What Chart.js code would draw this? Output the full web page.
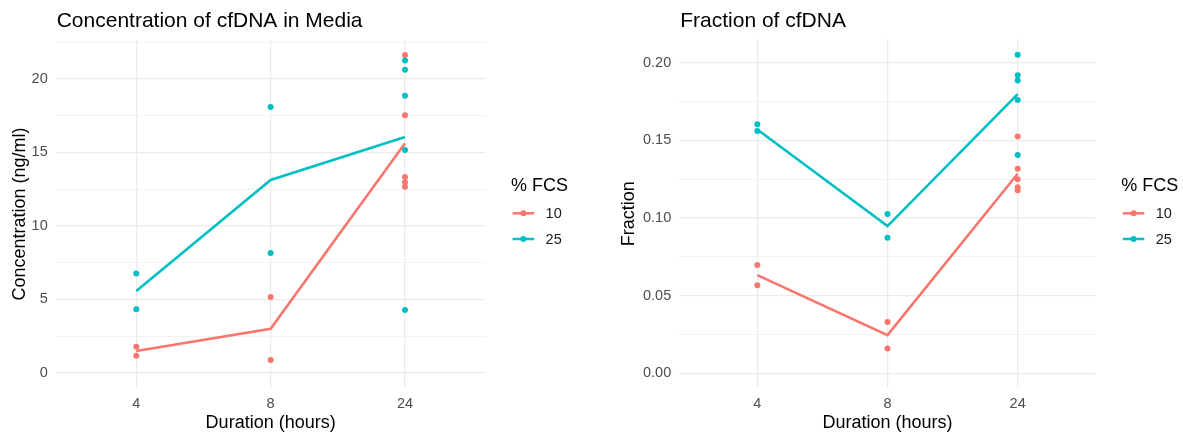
<!DOCTYPE html>
<html>
<head>
<meta charset="utf-8">
<script src="https://cdn.jsdelivr.net/npm/chart.js@4.4.1/dist/chart.umd.min.js"></script>
<style>
  body { margin: 0; background: #fff; }
  .wrap { position: absolute; top: 0; height: 437px; }
  #left { left: 0; width: 600px; }
  #right { left: 600px; width: 583px; }
</style>
</head>
<body>
<div class="wrap" id="left"><canvas id="concChart"></canvas></div>
<div class="wrap" id="right"><canvas id="fracChart"></canvas></div>
<script>
// categories
const durationLabels = ["4", "8", "24"];
const fcsGroups = ["10", "25"];
const groupColors = ["#F8766D", "#00BFC4"];

// concentration (ng/ml), one inner list per duration
const conc10 = [[1.79, 1.18], [5.17, 0.88], [21.63, 17.53, 13.33, 12.98, 12.66]];
const conc25 = [[6.76, 4.33], [18.1, 8.16], [21.25, 20.63, 18.86, 15.17, 4.29]];
const concMean10 = [1.5, 3.01, 15.62];
const concMean25 = [5.57, 13.13, 16.05];

// fraction, one inner list per duration
const frac10 = [[0.0697, 0.0567], [0.033, 0.0161], [0.1524, 0.1317, 0.1249, 0.1198, 0.1179]];
const frac25 = [[0.1603, 0.156], [0.1026, 0.0873], [0.205, 0.1918, 0.1885, 0.176, 0.1406]];
const fracMean10 = [0.0632, 0.0246, 0.1285];
const fracMean25 = [0.157, 0.0948, 0.1797];

// y ticks (major labelled, minor lines in between)
const concTicks = [0, 5, 10, 15, 20];
const fracTicks = [0, 0.05, 0.1, 0.15, 0.2];

const FONT = "'Liberation Sans', Arial, sans-serif";

function toPoints(groups) {
  const pts = [];
  groups.forEach((vals, i) => vals.forEach((v) => pts.push({ x: i + 1, y: v })));
  return pts;
}

function toLine(means) {
  return means.map((v, i) => ({ x: i + 1, y: v }));
}

// title and ggplot-like legend drawn on the canvas
const panelDecor = {
  id: "panelDecor",
  afterDraw(chart, args, opts) {
    const ctx = chart.ctx;
    const area = chart.chartArea;
    ctx.save();
    ctx.fillStyle = "#000";
    ctx.textBaseline = "middle";
    ctx.textAlign = "left";
    ctx.font = "21px " + FONT;
    ctx.fillText(opts.title, area.left + 1, 21.5);

    const lx = area.right;
    ctx.font = "18px " + FONT;
    ctx.fillText("% FCS", lx + 25.5, 186);
    ctx.font = "14.5px " + FONT;
    const rows = [213.3, 239];
    fcsGroups.forEach((g, i) => {
      const y = rows[i];
      ctx.strokeStyle = groupColors[i];
      ctx.fillStyle = groupColors[i];
      ctx.lineWidth = 2.5;
      ctx.beginPath();
      ctx.moveTo(lx + 27, y);
      ctx.lineTo(lx + 48.5, y);
      ctx.stroke();
      ctx.beginPath();
      ctx.arc(lx + 37.8, y, 3, 0, Math.PI * 2);
      ctx.fill();
      ctx.fillStyle = "#1a1a1a";
      ctx.fillText(g, lx + 60, y + 0.5);
    });
    ctx.restore();
  },
};

function makeChart(canvasId, cfg) {
  const ctx = document.getElementById(canvasId).getContext("2d");
  const majorSet = cfg.ticks.map((t) => t.toFixed(4));
  const step = cfg.ticks[1] - cfg.ticks[0];
  return new Chart(ctx, {
    data: {
      datasets: [
        {
          type: "scatter",
          label: fcsGroups[1],
          data: toPoints(cfg.pts25),
          backgroundColor: groupColors[1],
          pointRadius: 3,
          pointBorderWidth: 0,
          order: 1,
        },
        {
          type: "line",
          label: fcsGroups[1] + " mean",
          data: toLine(cfg.mean25),
          borderColor: groupColors[1],
          borderWidth: 2.6,
          pointRadius: 0,
          tension: 0,
          order: 2,
        },
        {
          type: "scatter",
          label: fcsGroups[0],
          data: toPoints(cfg.pts10),
          backgroundColor: groupColors[0],
          pointRadius: 3,
          pointBorderWidth: 0,
          order: 3,
        },
        {
          type: "line",
          label: fcsGroups[0] + " mean",
          data: toLine(cfg.mean10),
          borderColor: groupColors[0],
          borderWidth: 2.6,
          pointRadius: 0,
          tension: 0,
          order: 4,
        },
      ],
    },
    options: {
      responsive: true,
      maintainAspectRatio: false,
      animation: false,
      layout: {
        padding: { top: cfg.top, right: cfg.padRight, left: 0, bottom: 0 },
      },
      plugins: {
        legend: { display: false },
        tooltip: { enabled: false },
        panelDecor: { title: cfg.title },
      },
      scales: {
        x: {
          type: "linear",
          min: 0.4,
          max: 3.6,
          afterBuildTicks: (scale) => {
            scale.ticks = durationLabels.map((_, i) => ({ value: i + 1 }));
          },
          afterFit: (scale) => {
            scale.height = 49;
          },
          grid: { color: "#EBEBEB", lineWidth: 1.3, drawTicks: false },
          border: { display: false },
          ticks: {
            padding: 7,
            color: "#4D4D4D",
            font: { family: FONT, size: 14.5 },
            callback: (v) => durationLabels[v - 1] || "",
          },
          title: {
            display: true,
            text: "Duration (hours)",
            color: "#000",
            font: { family: FONT, size: 18 },
            padding: { top: 0, bottom: 3 },
          },
        },
        y: {
          type: "linear",
          min: cfg.yMin,
          max: cfg.yMax,
          afterBuildTicks: (scale) => {
            const t = [];
            for (let i = 0; i < cfg.ticks.length * 2; i++) {
              const v = cfg.ticks[0] + (i * step) / 2;
              if (v <= cfg.yMax) t.push({ value: v });
            }
            scale.ticks = t;
          },
          afterFit: (scale) => {
            scale.width = cfg.axisWidth;
          },
          grid: {
            drawTicks: false,
            color: (c) =>
              majorSet.includes(c.tick.value.toFixed(4)) ? "#EBEBEB" : "#F2F2F2",
            lineWidth: (c) =>
              majorSet.includes(c.tick.value.toFixed(4)) ? 1.3 : 1,
          },
          border: { display: false },
          ticks: {
            padding: 8,
            color: "#4D4D4D",
            font: { family: FONT, size: 14.5 },
            callback: (v) =>
              majorSet.includes(v.toFixed(4)) ? cfg.fmt(v) : "",
          },
          title: {
            display: true,
            text: cfg.yTitle,
            color: "#000",
            font: { family: FONT, size: 18 },
            padding: { top: cfg.yTitlePad, bottom: 0 },
          },
        },
      },
    },
    plugins: [panelDecor],
  });
}

makeChart("concChart", {
  title: "Concentration of cfDNA in Media",
  yTitle: "Concentration (ng/ml)",
  pts10: conc10,
  pts25: conc25,
  mean10: concMean10,
  mean25: concMean25,
  ticks: concTicks,
  yMin: -1.02,
  yMax: 22.65,
  top: 40,
  padRight: 114.4,
  axisWidth: 55.7,
  yTitlePad: 9.2,
  fmt: (v) => String(v),
});

makeChart("fracChart", {
  title: "Fraction of cfDNA",
  yTitle: "Fraction",
  pts10: frac10,
  pts25: frac25,
  mean10: fracMean10,
  mean25: fracMean25,
  ticks: fracTicks,
  yMin: -0.0094,
  yMax: 0.215,
  top: 39.3,
  padRight: 87.2,
  axisWidth: 79.2,
  yTitlePad: 18.2,
  fmt: (v) => v.toFixed(2),
});
</script>
</body>
</html>
